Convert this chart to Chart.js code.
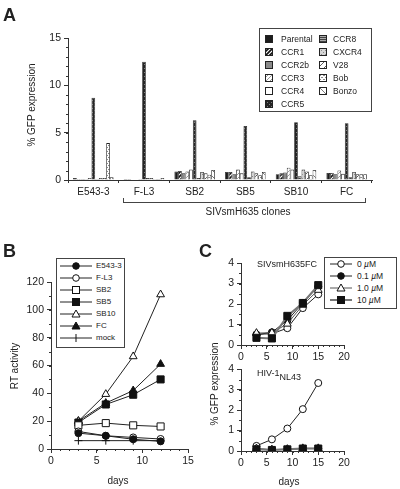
<!DOCTYPE html>
<html>
<head>
<meta charset="utf-8">
<script src="https://cdn.jsdelivr.net/npm/chart.js@4/dist/chart.umd.min.js"></script>
<style>
  body { margin: 0; background: #fff; font-family: 'Liberation Sans', Arial, sans-serif; color: #222; }
  #wrap { position: relative; width: 400px; height: 489px; overflow: hidden; }
  canvas.plot { position: absolute; }
  .txt { position: absolute; white-space: nowrap; font-size: 10px; line-height: 1; }
  .rot { transform: translate(-50%, -50%) rotate(-90deg); }
  .ctr { transform: translate(-50%, -50%); }
  .letter { position: absolute; font-weight: bold; font-size: 18px; line-height: 1; }
  .legend { position: absolute; border: 1px solid #444; background: #fff; box-sizing: border-box; }
  .legend .row { position: absolute; display: flex; align-items: center; font-size: 8.5px; line-height: 1; white-space: nowrap; }
  .legend svg, .legend canvas { display: block; }
</style>
</head>
<body>
<div id="wrap">
  <canvas id="chartA" class="plot" width="400" height="200" style="left:0;top:0"></canvas>
  <canvas id="chartB" class="plot" width="200" height="234" style="left:0;top:255px"></canvas>
  <canvas id="chartC1" class="plot" width="200" height="115" style="left:200px;top:250px"></canvas>
  <canvas id="chartC2" class="plot" width="200" height="129" style="left:200px;top:360px"></canvas>

  <div class="letter" style="left:3px;top:6px">A</div>
  <div class="letter" style="left:3px;top:242px">B</div>
  <div class="letter" style="left:199px;top:242px">C</div>

  <div class="txt rot" style="left:32px;top:105px">% GFP expression</div>
  <div style="position:absolute;left:123px;top:198px;width:243px;height:5px;border:1px solid #444;border-top:none;box-sizing:border-box"></div>
  <div class="txt ctr" style="left:248px;top:212px">SIVsmH635 clones</div>

  <div class="txt rot" style="left:15px;top:366px">RT activity</div>
  <div class="txt ctr" style="left:118px;top:481px">days</div>

  <div class="txt rot" style="left:215px;top:384px">% GFP expression</div>
  <div class="txt ctr" style="left:289px;top:482px">days</div>
  <div class="txt" style="left:257px;top:260px;font-size:9px">SIVsmH635FC</div>
  <div class="txt" style="left:257px;top:369px;font-size:9px">HIV-1<span style="position:relative;top:4px">NL43</span></div>

  <div id="legendA" class="legend" style="left:259px;top:28px;width:113px;height:84px"></div>
  <div id="legendB" class="legend" style="left:56px;top:258px;width:69px;height:90px"></div>
  <div id="legendC" class="legend" style="left:324px;top:257px;width:73px;height:52px"></div>
</div>

<script>
// Panel A data
const clones = ['E543-3', 'F-L3', 'SB2', 'SB5', 'SB10', 'FC'];
const receptors = ['Parental', 'CCR1', 'CCR2b', 'CCR3', 'CCR4', 'CCR5', 'CCR8', 'CXCR4', 'V28', 'Bob', 'Bonzo'];
const parental = [0.2, 0.1, 0.9, 0.85, 0.6, 0.75];
const ccr1 = [0.1, 0.1, 0.95, 0.85, 0.7, 0.75];
const ccr2b = [0.1, 0.05, 0.7, 0.6, 0.8, 0.6];
const ccr3 = [0.1, 0.05, 0.9, 1.1, 1.3, 1.0];
const ccr4 = [0.2, 0.1, 1.1, 0.7, 1.1, 0.65];
const ccr5 = [8.7, 12.5, 6.3, 5.7, 6.1, 6.0];
const ccr8 = [0.1, 0.2, 0.2, 0.3, 0.4, 0.3];
const cxcr4 = [0.2, 0.2, 0.85, 0.9, 1.1, 0.85];
const v28 = [0.2, 0.1, 0.7, 0.7, 0.9, 0.6];
const bob = [3.9, 0.1, 0.55, 0.5, 0.5, 0.6];
const bonzo = [0.3, 0.2, 1.05, 0.85, 1.05, 0.6];
const gfpA = [parental, ccr1, ccr2b, ccr3, ccr4, ccr5, ccr8, cxcr4, v28, bob, bonzo];
const yTicksA = [0, 5, 10, 15];

// Panel B data
const daysB = [3, 6, 9, 12];
const e543 = [11.4, 9.5, 7, 5.5];
const fl3 = [12.6, 9.5, 8.3, 7.2];
const sb2 = [17, 18.6, 17, 16.2];
const sb5 = [19, 32, 39, 50];
const sb10 = [20, 39.4, 66.5, 111];
const fc = [20, 33, 42, 61];
const mock = [6, 6, 6, 6];
const namesB = ['E543-3', 'F-L3', 'SB2', 'SB5', 'SB10', 'FC', 'mock'];

// Panel C data
const daysC = [3, 6, 9, 12, 15];
const concs = ['0 <i>µ</i>M', '0.1 <i>µ</i>M', '1.0 <i>µ</i>M', '10 <i>µ</i>M'];
const siv0 = [0.52, 0.55, 0.82, 1.8, 2.47];
const siv01 = [0.5, 0.62, 1.2, 2.05, 2.85];
const siv1 = [0.58, 0.6, 1.03, 1.95, 2.68];
const siv10 = [0.35, 0.32, 1.42, 2.05, 2.92];
const hiv0 = [0.25, 0.57, 1.1, 2.05, 3.33];
const hiv01 = [0.1, 0.06, 0.08, 0.12, 0.12];
const hiv1 = [0.12, 0.07, 0.09, 0.13, 0.13];
const hiv10 = [0.08, 0.05, 0.08, 0.12, 0.12];

Chart.defaults.font.family = "'Liberation Sans', Arial, sans-serif";
Chart.defaults.font.size = 10;
Chart.defaults.color = '#222';

// bar fills (patterns)
function diagLines(g, n, anti) {
  const segs = [[-1, 1, 1, -1], [0, n, n, 0], [n - 1, n + 1, n + 1, n - 1]];
  g.beginPath();
  segs.forEach(s => {
    if (anti) { g.moveTo(n - s[0], s[1]); g.lineTo(n - s[2], s[3]); }
    else { g.moveTo(s[0], s[1]); g.lineTo(s[2], s[3]); }
  });
  g.stroke();
}

function makeFill(kind) {
  if (kind === 'black') return '#1c1c1c';
  if (kind === 'gray') return '#8a8a8a';
  if (kind === 'white') return '#ffffff';
  const n = (kind === 'sparseDiag' || kind === 'sparseAnti') ? 6 : 4;
  const c = document.createElement('canvas');
  c.width = n; c.height = n;
  const g = c.getContext('2d');
  g.fillStyle = '#fff';
  g.fillRect(0, 0, n, n);
  if (kind === 'darkHatch') { g.strokeStyle = '#111'; g.lineWidth = 1.6; diagLines(g, n); }
  if (kind === 'lightHatch') { g.strokeStyle = '#999'; g.lineWidth = 1; diagLines(g, n); }
  if (kind === 'checker') {
    g.fillStyle = '#252525'; g.fillRect(0, 0, n, n);
    g.fillStyle = '#808080'; g.fillRect(0, 0, 1, 1); g.fillRect(2, 2, 1, 1);
  }
  if (kind === 'hlines') {
    g.fillStyle = '#aaa'; g.fillRect(0, 0, n, n);
    g.fillStyle = '#444'; g.fillRect(0, 0, n, 1); g.fillRect(0, 2, n, 1);
  }
  if (kind === 'dots') {
    g.fillStyle = '#d4d4d4'; g.fillRect(0, 0, n, n);
    g.fillStyle = '#888'; g.fillRect(0, 0, 1, 1); g.fillRect(2, 2, 1, 1);
  }
  if (kind === 'sparseDiag') { g.strokeStyle = '#333'; g.lineWidth = 0.8; diagLines(g, n); }
  if (kind === 'sparseAnti') { g.strokeStyle = '#555'; g.lineWidth = 0.8; diagLines(g, n, true); }
  if (kind === 'dash') { g.fillStyle = '#888'; g.fillRect(0, 1, 2, 1); g.fillRect(2, 3, 2, 1); }
  return g.createPattern(c, 'repeat');
}

const fillKinds = ['black', 'darkHatch', 'gray', 'lightHatch', 'white', 'checker',
                   'hlines', 'dots', 'sparseDiag', 'dash', 'sparseAnti'];

// small outward minor ticks
const minorTicks = {
  id: 'minorTicks',
  afterDraw(chart, args, opts) {
    const ctx = chart.ctx;
    ctx.save();
    ctx.strokeStyle = '#333';
    ctx.lineWidth = 1;
    (opts.list || []).forEach(m => {
      const s = chart.scales[m.axis];
      const count = Math.round((s.max - s.min) / m.step);
      for (let i = 0; i <= count; i++) {
        const p = Math.round(s.getPixelForValue(s.min + i * m.step)) + 0.5;
        ctx.beginPath();
        if (s.isHorizontal()) { ctx.moveTo(p, s.top); ctx.lineTo(p, s.top + m.len); }
        else { ctx.moveTo(s.right, p); ctx.lineTo(s.right - m.len, p); }
        ctx.stroke();
      }
    });
    ctx.restore();
  }
};

const axisGrid = { drawOnChartArea: false, tickLength: 4, color: '#333' };
const axisBorder = { color: '#333', width: 1 };

// Panel A
new Chart(document.getElementById('chartA'), {
  type: 'bar',
  data: {
    labels: clones,
    datasets: receptors.map((r, i) => ({
      label: r,
      data: gfpA[i],
      backgroundColor: makeFill(fillKinds[i]),
      borderColor: '#222',
      borderWidth: 0.8,
      categoryPercentage: 0.8,
      barPercentage: 1.0
    }))
  },
  options: {
    responsive: false,
    animation: false,
    layout: { padding: { top: 38, right: 28, left: 0, bottom: 0 } },
    plugins: {
      legend: { display: false },
      tooltip: { enabled: false },
      minorTicks: { list: [{ axis: 'y', step: 1, len: 2 }] }
    },
    scales: {
      x: {
        grid: { ...axisGrid, offset: true, tickLength: 3 },
        border: axisBorder,
        ticks: { padding: 3, font: { size: 10 } },
        afterFit: s => { s.height = 20; }
      },
      y: {
        min: 0, max: 15,
        afterBuildTicks: s => { s.ticks = yTicksA.map(v => ({ value: v })); },
        grid: axisGrid,
        border: axisBorder,
        ticks: { padding: 3, font: { size: 10.5 } },
        afterFit: s => { s.width = 68; }
      }
    }
  },
  plugins: [minorTicks]
});

// legend A
const legA = document.getElementById('legendA');
receptors.forEach((r, i) => {
  const col = i < 6 ? 0 : 1;
  const row = i < 6 ? i : i - 6;
  const div = document.createElement('div');
  div.className = 'row';
  div.style.left = (col === 0 ? 5 : 59) + 'px';
  div.style.top = (6 + row * 13) + 'px';
  const sw = document.createElement('canvas');
  sw.width = 8; sw.height = 8;
  const g = sw.getContext('2d');
  g.fillStyle = makeFill(fillKinds[i]);
  g.fillRect(0, 0, 8, 8);
  g.strokeStyle = '#222';
  g.strokeRect(0.5, 0.5, 7, 7);
  sw.style.marginRight = (col === 0 ? 8 : 6) + 'px';
  div.appendChild(sw);
  div.appendChild(document.createTextNode(r));
  legA.appendChild(div);
});

// helpers for line panels
function lineSet(label, xs, ys, shape, filled, radius, color, width) {
  return {
    label: label,
    data: xs.map((x, i) => ({ x: x, y: ys[i] })),
    borderColor: color || '#222',
    borderWidth: width || 1,
    pointStyle: shape,
    pointRadius: radius,
    pointBorderColor: '#111',
    pointBorderWidth: 1,
    pointBackgroundColor: filled ? '#111' : '#fff',
    tension: 0,
    fill: false
  };
}

function markerSvg(shape, filled, w, color, width) {
  const cx = w / 2, cy = 5, f = filled ? '#111' : '#fff';
  let m = '';
  if (shape === 'circle') m = `<circle cx="${cx}" cy="${cy}" r="3.3" fill="${f}" stroke="#111" stroke-width="1"/>`;
  if (shape === 'rect') m = `<rect x="${cx - 3.5}" y="${cy - 3.5}" width="7" height="7" fill="${f}" stroke="#111" stroke-width="1"/>`;
  if (shape === 'triangle') m = `<polygon points="${cx},${cy - 4} ${cx + 4},${cy + 3} ${cx - 4},${cy + 3}" fill="${f}" stroke="#111" stroke-width="1"/>`;
  if (shape === 'cross') m = `<path d="M${cx} ${cy - 4}V${cy + 4}" stroke="#111" stroke-width="1"/>`;
  return `<svg width="${w}" height="10"><line x1="0" y1="5" x2="${w}" y2="5" stroke="${color || '#222'}" stroke-width="${width || 1}"/>${m}</svg>`;
}

function lineOptions(cfg) {
  return {
    responsive: false,
    animation: false,
    layout: { padding: cfg.pad },
    plugins: {
      legend: { display: false },
      tooltip: { enabled: false },
      minorTicks: { list: cfg.minor }
    },
    scales: {
      x: {
        type: 'linear', min: cfg.xmax[0], max: cfg.xmax[1],
        ticks: { stepSize: cfg.xstep, padding: 2, font: { size: 10.5 } },
        grid: axisGrid, border: axisBorder,
        afterFit: s => { s.height = cfg.xh; }
      },
      y: {
        min: 0, max: cfg.ymax,
        ticks: { stepSize: cfg.ystep, padding: 3, font: { size: 10.5 } },
        grid: axisGrid, border: axisBorder,
        afterFit: s => { s.width = cfg.yw; }
      }
    }
  };
}

// Panel B
const seriesB = [
  [e543, 'circle', true, 3.5],
  [fl3, 'circle', false, 3.5],
  [sb2, 'rect', false, 5],
  [sb5, 'rect', true, 5],
  [sb10, 'triangle', false, 4.5],
  [fc, 'triangle', true, 4.5],
  [mock, 'cross', false, 4]
];
new Chart(document.getElementById('chartB'), {
  type: 'line',
  data: { datasets: seriesB.map((s, i) => lineSet(namesB[i], daysB, s[0], s[1], s[2], s[3])) },
  options: lineOptions({
    pad: { top: 27, right: 12, left: 0, bottom: 0 },
    xmax: [0, 15], xstep: 5, ymax: 120, ystep: 20, xh: 40, yw: 51,
    minor: [{ axis: 'x', step: 1, len: 2 }, { axis: 'y', step: 10, len: 2 }]
  }),
  plugins: [minorTicks]
});

const legB = document.getElementById('legendB');
seriesB.forEach((s, i) => {
  const div = document.createElement('div');
  div.className = 'row';
  div.style.left = '3px';
  div.style.top = (2 + i * 12) + 'px';
  div.style.fontSize = '8px';
  div.innerHTML = markerSvg(s[1], s[2], 32) + '<span style="margin-left:4px">' + namesB[i] + '</span>';
  legB.appendChild(div);
});

// Panel C
const seriesC = [
  ['circle', false, 3.5, '#222', 1],
  ['circle', true, 3.5, '#222', 1],
  ['triangle', false, 4.5, '#555', 1],
  ['rect', true, 5, '#777', 2]
];
const sivC = [siv0, siv01, siv1, siv10];
const hivC = [hiv0, hiv01, hiv1, hiv10];

function drawC(id, ys, padTop, xh) {
  new Chart(document.getElementById(id), {
    type: 'line',
    data: {
      datasets: seriesC.map((s, i) => lineSet(concs[i], daysC, ys[i], s[0], s[1], s[2], s[3], s[4])).reverse()
    },
    options: lineOptions({
      pad: { top: padTop, right: 56, left: 0, bottom: 0 },
      xmax: [0, 20], xstep: 5, ymax: 4, ystep: 1, xh: xh, yw: 41,
      minor: [{ axis: 'x', step: 1, len: 2 }, { axis: 'y', step: 0.5, len: 2 }]
    }),
    plugins: [minorTicks]
  });
}
drawC('chartC1', sivC, 13, 20);
drawC('chartC2', hivC, 9, 38);

const legC = document.getElementById('legendC');
seriesC.forEach((s, i) => {
  const div = document.createElement('div');
  div.className = 'row';
  div.style.left = '5px';
  div.style.top = (1 + i * 12) + 'px';
  div.innerHTML = markerSvg(s[0], s[1], 22, s[3], s[4]) + '<span style="margin-left:5px">' + concs[i] + '</span>';
  legC.appendChild(div);
});
</script>
</body>
</html>
